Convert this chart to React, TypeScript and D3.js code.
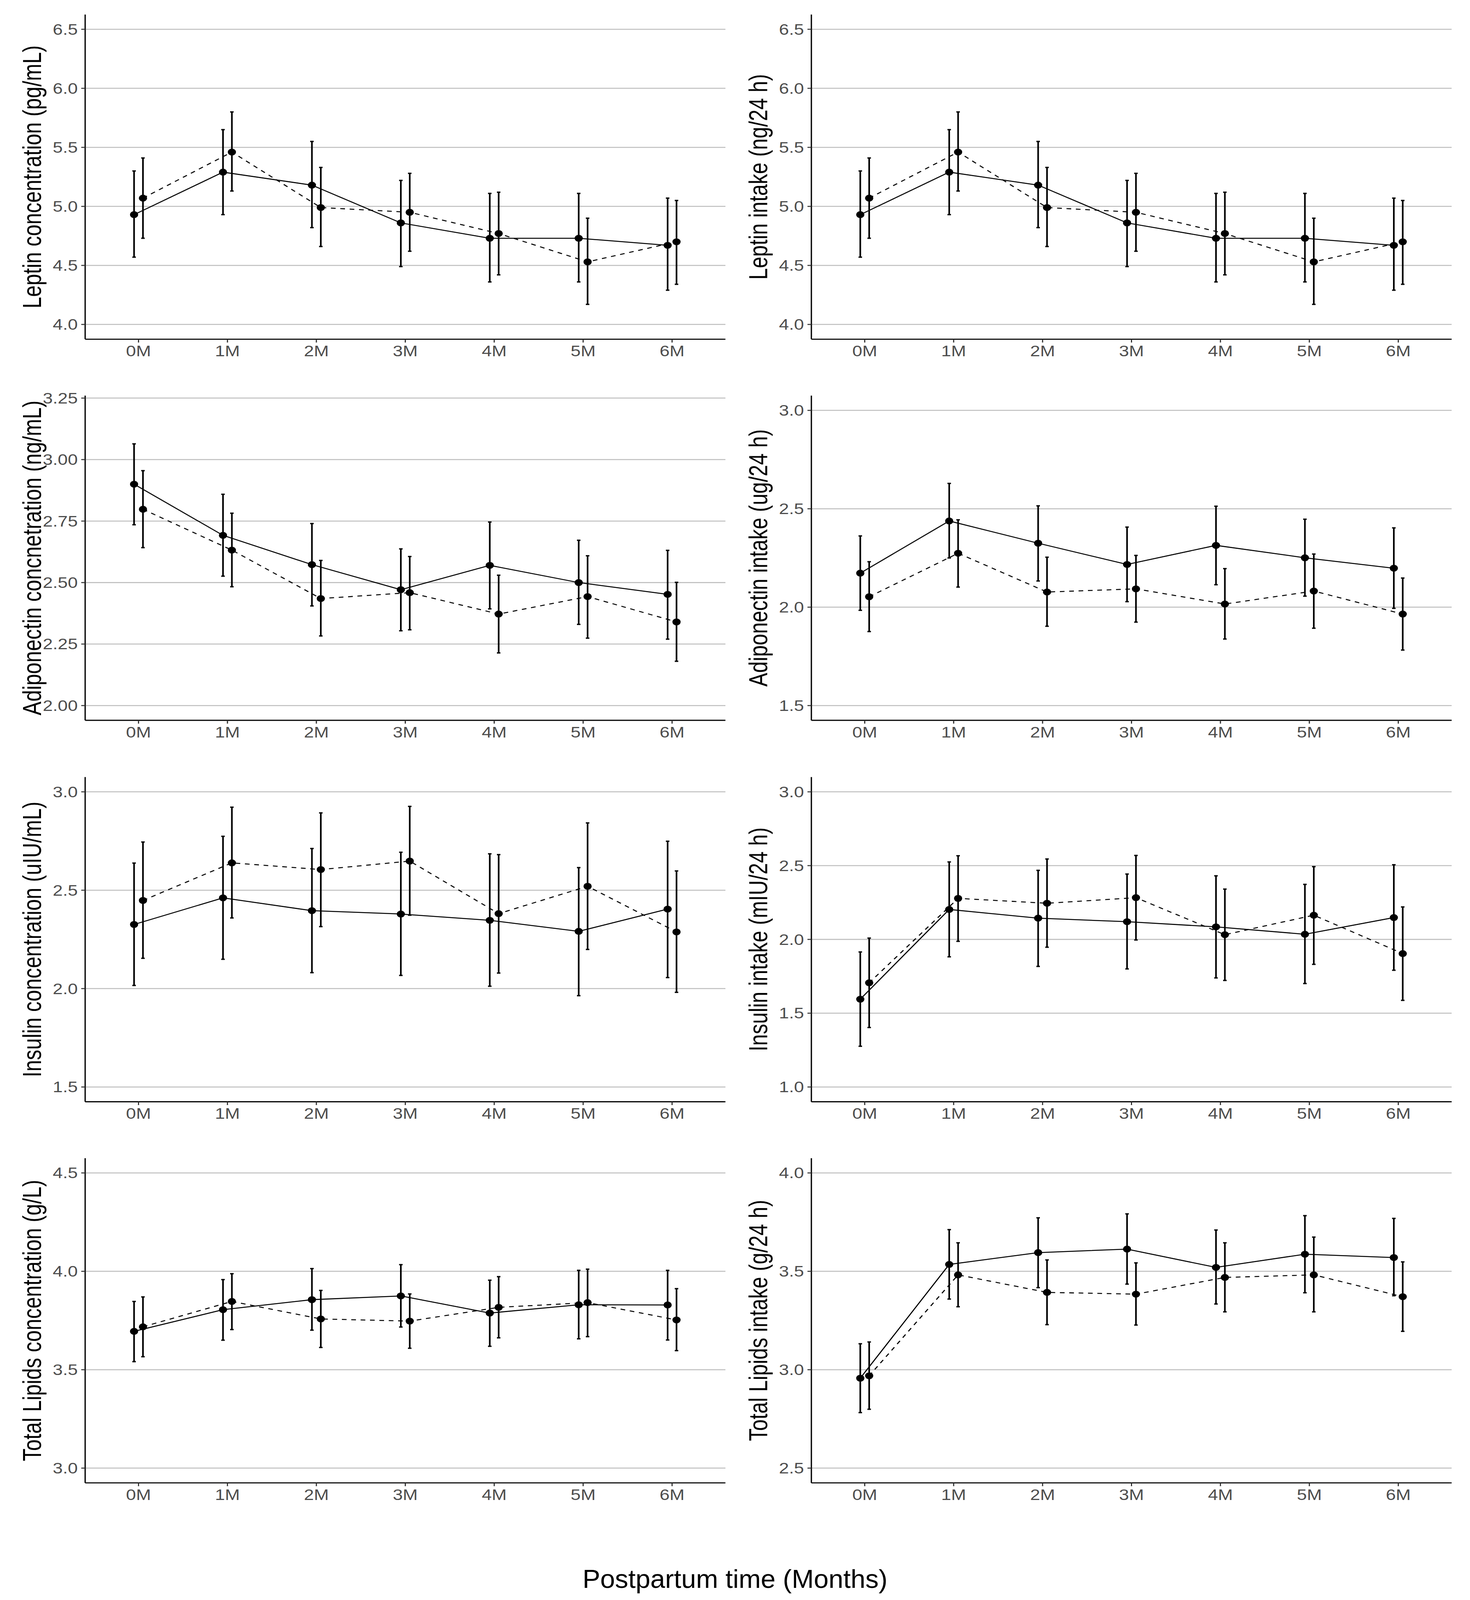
import React from 'react';
import * as d3 from 'd3';

// categories on the x axis
const MONTHS = ['0M', '1M', '2M', '3M', '4M', '5M', '6M'];

// each entry: [mean, lower, upper] for a month
// "Solid" = first group (solid line, left of tick), "Dashed" = second group
const leptinConcSolid = [[4.93, 4.57, 5.30], [5.29, 4.93, 5.65], [5.18, 4.82, 5.55], [4.86, 4.49, 5.22], [4.73, 4.36, 5.11], [4.73, 4.36, 5.11], [4.67, 4.29, 5.07]];
const leptinConcDashed = [[5.07, 4.73, 5.41], [5.46, 5.13, 5.80], [4.99, 4.66, 5.33], [4.95, 4.62, 5.28], [4.77, 4.42, 5.12], [4.53, 4.17, 4.90], [4.70, 4.34, 5.05]];

const leptinIntakeSolid = [[4.93, 4.57, 5.30], [5.29, 4.93, 5.65], [5.18, 4.82, 5.55], [4.86, 4.49, 5.22], [4.73, 4.36, 5.11], [4.73, 4.36, 5.11], [4.67, 4.29, 5.07]];
const leptinIntakeDashed = [[5.07, 4.73, 5.41], [5.46, 5.13, 5.80], [4.99, 4.66, 5.33], [4.95, 4.62, 5.28], [4.77, 4.42, 5.12], [4.53, 4.17, 4.90], [4.70, 4.34, 5.05]];

const adipoConcSolid = [[2.90, 2.735, 3.064], [2.692, 2.526, 2.859], [2.573, 2.405, 2.740], [2.471, 2.304, 2.637], [2.570, 2.393, 2.746], [2.500, 2.330, 2.672], [2.452, 2.270, 2.631]];
const adipoConcDashed = [[2.798, 2.642, 2.955], [2.632, 2.483, 2.782], [2.435, 2.283, 2.590], [2.459, 2.308, 2.606], [2.372, 2.214, 2.530], [2.443, 2.274, 2.609], [2.340, 2.180, 2.501]];

const adipoIntakeSolid = [[2.173, 1.984, 2.362], [2.438, 2.250, 2.629], [2.325, 2.133, 2.515], [2.217, 2.028, 2.407], [2.314, 2.114, 2.513], [2.251, 2.056, 2.447], [2.198, 1.994, 2.403]];
const adipoIntakeDashed = [[2.053, 1.876, 2.231], [2.274, 2.102, 2.444], [2.077, 1.903, 2.254], [2.093, 1.924, 2.263], [2.016, 1.838, 2.196], [2.082, 1.893, 2.270], [1.965, 1.782, 2.148]];

const insulinConcSolid = [[2.326, 2.016, 2.638], [2.461, 2.149, 2.774], [2.396, 2.081, 2.712], [2.379, 2.067, 2.693], [2.347, 2.012, 2.685], [2.291, 1.964, 2.615], [2.404, 2.056, 2.749]];
const insulinConcDashed = [[2.448, 2.154, 2.745], [2.639, 2.359, 2.922], [2.605, 2.315, 2.893], [2.648, 2.373, 2.926], [2.381, 2.079, 2.681], [2.520, 2.199, 2.842], [2.288, 1.981, 2.598]];

const insulinIntakeSolid = [[1.595, 1.276, 1.915], [2.203, 1.882, 2.525], [2.144, 1.817, 2.468], [2.120, 1.800, 2.443], [2.085, 1.739, 2.431], [2.035, 1.701, 2.373], [2.148, 1.791, 2.506]];
const insulinIntakeDashed = [[1.706, 1.403, 2.009], [2.278, 1.987, 2.567], [2.245, 1.947, 2.545], [2.283, 1.996, 2.569], [2.032, 1.722, 2.341], [2.164, 1.831, 2.493], [1.904, 1.587, 2.220]];

const lipidsConcSolid = [[3.695, 3.541, 3.847], [3.805, 3.650, 3.958], [3.856, 3.701, 4.014], [3.875, 3.717, 4.034], [3.788, 3.619, 3.955], [3.830, 3.657, 4.005], [3.829, 3.651, 4.005]];
const lipidsConcDashed = [[3.718, 3.566, 3.870], [3.847, 3.704, 3.988], [3.758, 3.613, 3.903], [3.747, 3.609, 3.885], [3.817, 3.662, 3.973], [3.841, 3.668, 4.011], [3.753, 3.597, 3.912]];

const lipidsIntakeSolid = [[2.957, 2.782, 3.132], [3.535, 3.359, 3.712], [3.595, 3.417, 3.772], [3.613, 3.435, 3.792], [3.520, 3.334, 3.710], [3.587, 3.391, 3.783], [3.570, 3.376, 3.769]];
const lipidsIntakeDashed = [[2.969, 2.799, 3.141], [3.482, 3.320, 3.645], [3.393, 3.229, 3.558], [3.384, 3.227, 3.543], [3.469, 3.294, 3.645], [3.482, 3.294, 3.674], [3.371, 3.195, 3.548]];

// y axis ticks per panel
const ticksLeptin = [4.0, 4.5, 5.0, 5.5, 6.0, 6.5];
const ticksAdipoConc = [2.0, 2.25, 2.5, 2.75, 3.0, 3.25];
const ticksAdipoIntake = [1.5, 2.0, 2.5, 3.0];
const ticksInsulinConc = [1.5, 2.0, 2.5, 3.0];
const ticksInsulinIntake = [1.0, 1.5, 2.0, 2.5, 3.0];
const ticksLipidsConc = [3.0, 3.5, 4.0, 4.5];
const ticksLipidsIntake = [2.5, 3.0, 3.5, 4.0];

const X_TITLE = 'Postpartum time (Months)';

const panels = [
  { title: 'Leptin concentration (pg/mL)', domain: [3.875, 6.625], ticks: ticksLeptin, fmt: '.1f', solid: leptinConcSolid, dashed: leptinConcDashed },
  { title: 'Leptin intake (ng/24 h)', domain: [3.875, 6.625], ticks: ticksLeptin, fmt: '.1f', solid: leptinIntakeSolid, dashed: leptinIntakeDashed },
  { title: 'Adiponectin concnetration (ng/mL)', domain: [1.94, 3.26], ticks: ticksAdipoConc, fmt: '.2f', solid: adipoConcSolid, dashed: adipoConcDashed },
  { title: 'Adiponectin intake (ug/24 h)', domain: [1.425, 3.075], ticks: ticksAdipoIntake, fmt: '.1f', solid: adipoIntakeSolid, dashed: adipoIntakeDashed },
  { title: 'Insulin concentration (uIU/mL)', domain: [1.425, 3.075], ticks: ticksInsulinConc, fmt: '.1f', solid: insulinConcSolid, dashed: insulinConcDashed },
  { title: 'Insulin intake (mIU/24 h)', domain: [0.9, 3.1], ticks: ticksInsulinIntake, fmt: '.1f', solid: insulinIntakeSolid, dashed: insulinIntakeDashed },
  { title: 'Total Lipids concentration (g/L)', domain: [2.925, 4.575], ticks: ticksLipidsConc, fmt: '.1f', solid: lipidsConcSolid, dashed: lipidsConcDashed },
  { title: 'Total Lipids intake (g/24 h)', domain: [2.425, 4.075], ticks: ticksLipidsIntake, fmt: '.1f', solid: lipidsIntakeSolid, dashed: lipidsIntakeDashed },
];

const W = 3763;
const H = 4849;
const FONT = '"Liberation Sans", Arial, Helvetica, sans-serif';
const COL_X = [218, 2077];
const ROW_Y = [44, 1199, 2355, 3510];
const PANEL_W = 1639;
const PANEL_H = 984;
const DODGE = 0.05;

interface PanelProps {
  cfg: typeof panels[number];
  x0: number;
  y0: number;
}

const Panel: React.FC<PanelProps> = ({ cfg, x0, y0 }) => {
  const x = d3.scalePoint<string>().domain(MONTHS).range([x0, x0 + PANEL_W]).padding(0.6);
  const step = x.step();
  const y = d3.scaleLinear().domain(cfg.domain).range([y0 + PANEL_H, y0]);
  const fmt = d3.format(cfg.fmt);
  const bottom = y0 + PANEL_H;

  const series = [
    { data: cfg.solid, off: -DODGE, dash: undefined as string | undefined },
    { data: cfg.dashed, off: DODGE, dash: '12,12' },
  ];

  const line = d3.line<[number, number]>().x(d => d[0]).y(d => d[1]);

  return (
    <g>
      {/* horizontal grid */}
      {cfg.ticks.map(t => (
        <line key={`g${t}`} x1={x0} x2={x0 + PANEL_W} y1={y(t)} y2={y(t)} stroke="#BEBEBE" strokeWidth={3} />
      ))}

      {series.map((s, si) => {
        const pts = s.data.map((d, i) => [x(MONTHS[i])! + s.off * step, y(d[0])] as [number, number]);
        return (
          <g key={`s${si}`}>
            <path d={line(pts) || ''} fill="none" stroke="#000" strokeWidth={3} strokeDasharray={s.dash} />
            {s.data.map((d, i) => {
              const cx = pts[i][0];
              return (
                <g key={`e${i}`}>
                  <line x1={cx} x2={cx} y1={y(d[1])} y2={y(d[2])} stroke="#000" strokeWidth={4.2} />
                  <line x1={cx - 4.5} x2={cx + 4.5} y1={y(d[1])} y2={y(d[1])} stroke="#000" strokeWidth={4} />
                  <line x1={cx - 4.5} x2={cx + 4.5} y1={y(d[2])} y2={y(d[2])} stroke="#000" strokeWidth={4} />
                </g>
              );
            })}
          </g>
        );
      })}

      {series.map((s, si) => (
        <g key={`p${si}`}>
          {s.data.map((d, i) => (
            <circle key={i} cx={x(MONTHS[i])! + s.off * step} cy={y(d[0])} r={10.5} fill="#000" />
          ))}
        </g>
      ))}

      {/* axes */}
      <line x1={x0} x2={x0} y1={y0} y2={bottom} stroke="#000" strokeWidth={3.3} />
      <line x1={x0} x2={x0 + PANEL_W} y1={bottom} y2={bottom} stroke="#000" strokeWidth={3.3} />

      {cfg.ticks.map(t => (
        <g key={`yt${t}`}>
          <line x1={x0 - 10} x2={x0} y1={y(t)} y2={y(t)} stroke="#333" strokeWidth={3} />
          <text x={x0 - 19} y={y(t)} textAnchor="end" dominantBaseline="central" fontSize={46} fill="#4D4D4D" fontFamily={FONT}>
            {fmt(t)}
          </text>
        </g>
      ))}

      {MONTHS.map(m => (
        <g key={`xt${m}`}>
          <line x1={x(m)} x2={x(m)} y1={bottom} y2={bottom + 10} stroke="#333" strokeWidth={3} />
          <text x={x(m)} y={bottom + 52} textAnchor="middle" fontSize={46} fill="#4D4D4D" fontFamily={FONT}>
            {m}
          </text>
        </g>
      ))}

      <text
        transform={`translate(${x0 - 113},${y0 + PANEL_H / 2}) rotate(-90) scale(0.935,1)`}
        textAnchor="middle"
        fontSize={67}
        fill="#000"
        fontFamily={FONT}
      >
        {cfg.title}
      </text>
    </g>
  );
};

export default function App() {
  // the page viewport may be shorter than the chart, so the drawing is fitted to it
  const [view, setView] = React.useState({ w: window.innerWidth, h: window.innerHeight });
  React.useEffect(() => {
    const onResize = () => setView({ w: window.innerWidth, h: window.innerHeight });
    window.addEventListener('resize', onResize);
    return () => window.removeEventListener('resize', onResize);
  }, []);

  return (
    <>
      <style>{`html,body{margin:0;padding:0;overflow:hidden}`}</style>
      <svg
        width={view.w}
        height={view.h}
        viewBox={`0 0 ${W} ${H}`}
        preserveAspectRatio="none"
        style={{ display: 'block' }}
      >
        <rect width={W} height={H} fill="#fff" />
        {panels.map((p, i) => (
          <Panel key={i} cfg={p} x0={COL_X[i % 2]} y0={ROW_Y[Math.floor(i / 2)]} />
        ))}
        <text
          transform={`translate(${W / 2},4812) scale(0.87,1)`}
          textAnchor="middle"
          fontSize={78}
          fill="#000"
          fontFamily={FONT}
        >
          {X_TITLE}
        </text>
      </svg>
    </>
  );
}
